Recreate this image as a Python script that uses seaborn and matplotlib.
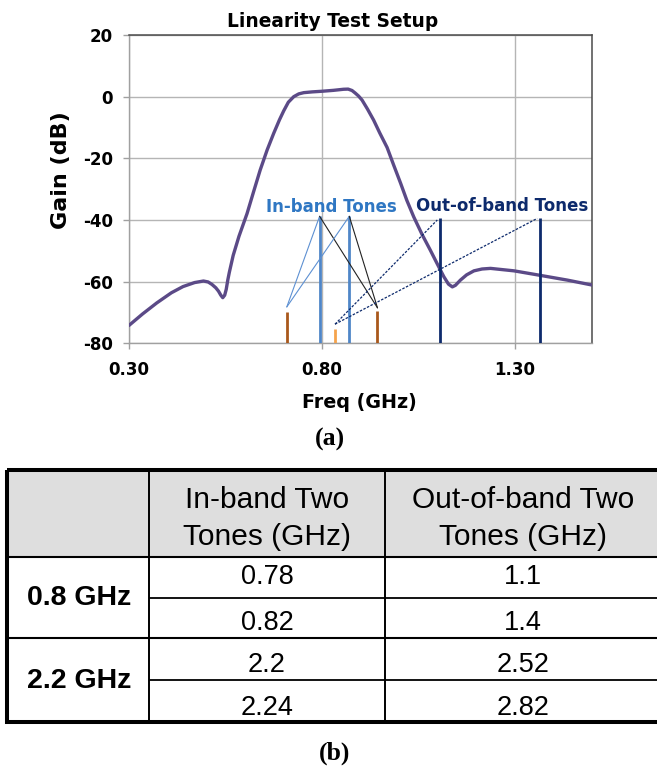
import matplotlib
matplotlib.use("Agg")
import matplotlib.pyplot as plt
import seaborn as sns
import pandas as pd
from matplotlib.patches import Rectangle

# ---------------- data ----------------
freq_ghz = [0.300, 0.335, 0.372, 0.410, 0.440, 0.470, 0.493, 0.505, 0.515, 0.525,
            0.532, 0.538, 0.543, 0.548, 0.552, 0.556, 0.560, 0.570, 0.585, 0.606,
            0.623, 0.640, 0.658, 0.675, 0.690, 0.701, 0.713, 0.727, 0.740, 0.753,
            0.775, 0.800, 0.830, 0.856, 0.868, 0.878, 0.886, 0.895, 0.904, 0.918,
            0.934, 0.950, 0.969, 0.986, 1.004, 1.020, 1.038, 1.060, 1.081, 1.100,
            1.116, 1.128, 1.138, 1.146, 1.159, 1.175, 1.194, 1.215, 1.237, 1.298,
            1.363, 1.436, 1.500]
gain_db = [-74.2, -70.5, -66.9, -63.6, -61.6, -60.3, -59.8, -60.1, -60.9, -62.0,
           -63.1, -64.4, -65.2, -64.4, -62.5, -59.5, -57.0, -51.5, -45.3, -37.9,
           -30.8, -23.8, -17.3, -11.9, -7.5, -4.6, -1.8, 0.0, 0.9, 1.3,
           1.55, 1.75, 2.05, 2.4, 2.45, 2.0, 1.2, 0.2, -1.1, -4.0,
           -7.6, -11.8, -16.5, -22.2, -28.1, -33.6, -39.0, -44.8, -49.8, -54.5,
           -58.4, -60.8, -61.7, -61.2, -59.5, -57.8, -56.5, -55.9, -55.7, -56.5,
           -57.9, -59.5, -61.1]

in_band_freq = [0.794, 0.871]
in_band_top = [-38.8, -38.8]
out_band_freq = [1.105, 1.364]
out_band_top = [-39.5, -39.5]
im3_freq = [0.709, 0.944]
im3_top = [-70.0, -69.4]
im2_freq = [0.834]
im2_top = [-75.2]

# connector endpoints (freq, dB)
in_apex = (0.709, -68.2)
im3_apex = (0.944, -68.5)
im2_apex = (0.834, -73.8)
out_ends_freq = [1.099, 1.358]
out_ends_db = [-40.0, -39.5]

x_ticks = [0.30, 0.80, 1.30]
x_tick_labels = ["0.30", "0.80", "1.30"]
y_ticks = [-80, -60, -40, -20, 0, 20]

table_groups = ["0.8 GHz", "2.2 GHz"]
table_headers = [["In-band Two", "Tones (GHz)"], ["Out-of-band Two", "Tones (GHz)"]]
in_band_tones = ["0.78", "0.82", "2.2", "2.24"]
out_band_tones = ["1.1", "1.4", "2.52", "2.82"]

# ---------------- figure ----------------
W, H = 657, 767
sns.set_style("white")
plt.rcParams["font.family"] = ["DejaVu Sans"]
plt.rcParams["axes.unicode_minus"] = False
plt.rcParams["text.color"] = "black"
plt.rcParams["axes.labelcolor"] = "black"
plt.rcParams["xtick.labelcolor"] = "black"
plt.rcParams["ytick.labelcolor"] = "black"
fig = plt.figure(figsize=(W / 100, H / 100), dpi=100)

L, R, T, B = 129, 592, 35, 343.3
ax = fig.add_axes([L / W, 1 - B / H, (R - L) / W, (B - T) / H])

df = pd.DataFrame({"Freq (GHz)": freq_ghz, "Gain (dB)": gain_db})
sns.lineplot(data=df, x="Freq (GHz)", y="Gain (dB)", ax=ax, color="#5b4a87",
             lw=2.4, zorder=3, solid_joinstyle="round", solid_capstyle="round")

ax.set_xlim(0.3, 1.5)
ax.set_ylim(-80, 20)
ax.set_xticks(x_ticks)
ax.set_xticklabels(x_tick_labels)
ax.set_yticks(y_ticks)
ax.grid(True, color="#b5b5b5", lw=1.0, zorder=0)
ax.set_axisbelow(True)
for side in ["left", "bottom"]:
    ax.spines[side].set_color("#a0a0a0")
    ax.spines[side].set_linewidth(1.0)
for side in ["top", "right"]:
    ax.spines[side].set_color("#4a4a4a")
    ax.spines[side].set_linewidth(1.1)
ax.tick_params(axis="both", direction="out", length=4, width=1, color="#a0a0a0",
               labelsize=12, labelcolor="black", bottom=True, left=True)
ax.tick_params(axis="y", pad=7.5)
ax.tick_params(axis="x", pad=8.5)
for lab in ax.get_xticklabels() + ax.get_yticklabels():
    lab.set_fontweight("bold")

ax.set_xlabel("Freq (GHz)", fontsize=13.8, fontweight="bold", va="baseline",
              color="black")
ax.xaxis.set_label_coords(0.4978, -(408 - B) / (B - T))
ax.set_ylabel("Gain (dB)", fontsize=16, fontweight="bold", va="center",
              color="black")
ax.yaxis.set_label_coords((61 - L) / (R - L), (B - 170) / (B - T))
ax.set_title("Linearity Test Setup", fontsize=13.4, fontweight="bold",
             x=(333 - L) / (R - L), y=(B - 26.7) / (B - T), va="baseline", pad=0,
             color="black")

# tones
c_inband = "#4f86c8"
c_navy = "#0d2a6c"
c_dorange = "#a9581c"
c_lorange = "#f5a34c"
ax.vlines(in_band_freq, -80, in_band_top, colors=c_inband, lw=2.0, zorder=4)
ax.vlines(out_band_freq, -80, out_band_top, colors=c_navy, lw=2.0, zorder=4)
ax.vlines(im3_freq, -80, im3_top, colors=c_dorange, lw=2.0, zorder=4)
ax.vlines(im2_freq, -80, im2_top, colors=c_lorange, lw=2.0, zorder=4)

# connectors
for f, g in zip(in_band_freq, in_band_top):
    ax.plot([in_apex[0], f], [in_apex[1], g], color="#5d90d2", lw=0.8, zorder=5)
    ax.plot([f, im3_apex[0]], [g, im3_apex[1]], color="#222222", lw=0.8, zorder=5)
for f, g in zip(out_ends_freq, out_ends_db):
    ax.plot([im2_apex[0], f], [im2_apex[1], g], color=c_navy, lw=0.9,
            ls=(0, (2, 1.2)), zorder=5)

ax.text(0.824, -37.3, "In-band Tones", color="#2f77c3", fontsize=12,
        fontweight="bold", ha="center", va="baseline", zorder=6)
ax.text(1.268, -37.0, "Out-of-band Tones", color=c_navy, fontsize=12,
        fontweight="bold", ha="center", va="baseline", zorder=6)

# captions
serif = ["Liberation Serif", "DejaVu Serif"]
fig.text(330 / W, 1 - 439 / H, "(a)", family=serif, fontweight="bold",
         fontsize=18.5, ha="center", va="center", color="black")
fig.text(335 / W, 1 - 753 / H, "(b)", family=serif, fontweight="bold",
         fontsize=18.5, ha="center", va="center", color="black")

# ---------------- table ----------------
tab = fig.add_axes([0, 0, 1, 1])
tab.set_xlim(0, W)
tab.set_ylim(H, 0)
tab.axis("off")
sans = ["Liberation Sans", "DejaVu Sans"]

xl, xc1, xc2, xr = 7.3, 149, 385, 661
yt, yh, yb = 470, 556.7, 721.7
row_lines = [597.7, 638.3, 680]

tab.add_patch(Rectangle((xl, yt), xr - xl, yh - yt, facecolor="#dedede",
                        edgecolor="none", zorder=1))
tab.hlines([yh, row_lines[1]], xl, xr, colors="black", lw=1.5, zorder=2)
tab.hlines([row_lines[0], row_lines[2]], xc1, xr, colors="black", lw=1.3, zorder=2)
tab.vlines([xc1, xc2], yt, yb, colors="black", lw=1.4, zorder=2)
tab.add_patch(Rectangle((xl, yt), xr - xl, yb - yt, facecolor="none",
                        edgecolor="black", lw=2.9, zorder=3))

col_centers = [(xc1 + xc2) / 2, (xc2 + xr) / 2]
header_baselines = [508.3, 545]
for cx, lines in zip(col_centers, table_headers):
    for yb_, txt in zip(header_baselines, lines):
        tab.text(cx, yb_, txt, family=sans, fontsize=21.5, ha="center",
                 va="baseline", zorder=4, color="black")

group_baselines = [605, 688]
for yb_, g in zip(group_baselines, table_groups):
    tab.text((xl + xc1) / 2 + 1, yb_, g, family=sans, fontsize=20.5,
             fontweight="bold", ha="center", va="baseline", zorder=4, color="black")

row_baselines = [583.5, 630, 672, 715]
for yb_, a, b in zip(row_baselines, in_band_tones, out_band_tones):
    tab.text(col_centers[0], yb_, a, family=sans, fontsize=19.5, ha="center",
             va="baseline", zorder=4, color="black")
    tab.text(col_centers[1], yb_, b, family=sans, fontsize=19.5, ha="center",
             va="baseline", zorder=4, color="black")

fig.savefig("out.png", dpi=100, facecolor="white")
